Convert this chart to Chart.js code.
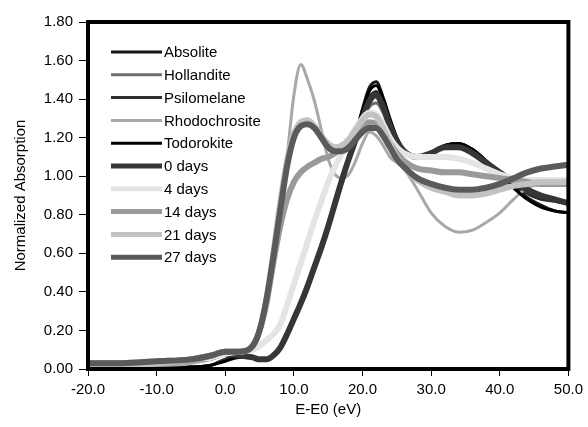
<!DOCTYPE html>
<html><head><meta charset="utf-8">
<script src="https://cdn.jsdelivr.net/npm/chart.js@4/dist/chart.umd.min.js"></script>
<style>html,body{margin:0;padding:0;background:#fff}#wrap{width:588px;height:427px}</style>
</head><body><div id="wrap"><canvas id="c" width="588" height="427"></canvas></div>
<script>
const energies = [-20,-15,-10,-5,-2,0,2,4,5,6,7,8,9,10,11,12,13,14,15,16,17,18,19,20,21,22,23,24,25,26,28,30,32,34,36,38,40,42,44,46,48,50];
const absolite = [0.00,0.00,0.00,0.01,0.02,0.05,0.07,0.06,0.05,0.05,0.07,0.11,0.18,0.26,0.34,0.43,0.53,0.63,0.74,0.86,0.98,1.10,1.22,1.35,1.46,1.49,1.41,1.30,1.20,1.14,1.10,1.12,1.16,1.17,1.14,1.08,1.01,0.95,0.89,0.85,0.82,0.81];
const hollandite = [0.00,0.00,0.01,0.01,0.02,0.05,0.07,0.06,0.05,0.05,0.07,0.11,0.18,0.26,0.35,0.44,0.54,0.64,0.75,0.87,0.98,1.09,1.19,1.29,1.36,1.38,1.33,1.24,1.17,1.12,1.10,1.12,1.15,1.16,1.13,1.08,1.02,0.97,0.92,0.89,0.87,0.86];
const psilomelane = [0.00,0.00,0.00,0.01,0.02,0.05,0.07,0.06,0.05,0.05,0.07,0.11,0.18,0.26,0.34,0.43,0.53,0.63,0.74,0.86,0.97,1.09,1.20,1.32,1.41,1.44,1.38,1.28,1.19,1.13,1.10,1.12,1.16,1.17,1.14,1.08,1.02,0.96,0.91,0.88,0.87,0.86];
const rhodochrosite = [0.01,0.01,0.02,0.03,0.05,0.08,0.08,0.12,0.18,0.32,0.52,0.80,1.10,1.42,1.58,1.50,1.39,1.24,1.09,1.01,0.99,1.01,1.08,1.17,1.23,1.21,1.16,1.10,1.07,1.04,0.93,0.81,0.74,0.71,0.72,0.76,0.81,0.88,0.94,0.96,0.97,0.97];
const todorokite = [0.00,0.00,0.00,0.01,0.02,0.04,0.06,0.06,0.05,0.05,0.07,0.11,0.18,0.26,0.34,0.43,0.53,0.63,0.74,0.86,0.98,1.10,1.21,1.34,1.44,1.47,1.40,1.29,1.20,1.14,1.10,1.12,1.16,1.17,1.14,1.08,1.01,0.94,0.88,0.84,0.82,0.81];
const day0 = [0.02,0.02,0.03,0.05,0.06,0.08,0.07,0.06,0.05,0.05,0.07,0.11,0.18,0.26,0.34,0.43,0.53,0.63,0.74,0.86,0.98,1.09,1.19,1.30,1.39,1.42,1.36,1.26,1.18,1.13,1.10,1.12,1.15,1.15,1.12,1.07,1.02,0.97,0.93,0.90,0.88,0.86];
const day4 = [0.02,0.02,0.03,0.05,0.06,0.08,0.09,0.10,0.12,0.15,0.18,0.23,0.33,0.44,0.55,0.66,0.77,0.87,0.97,1.05,1.12,1.19,1.25,1.30,1.33,1.32,1.27,1.20,1.15,1.12,1.10,1.10,1.10,1.09,1.07,1.04,1.01,0.99,0.98,0.98,0.98,0.98];
const day14 = [0.03,0.03,0.04,0.05,0.07,0.09,0.09,0.12,0.20,0.34,0.55,0.74,0.88,0.97,1.02,1.05,1.07,1.09,1.10,1.12,1.15,1.18,1.22,1.26,1.28,1.27,1.23,1.17,1.12,1.08,1.04,1.03,1.02,1.02,1.01,1.00,0.99,0.98,0.97,0.96,0.96,0.96];
const day21 = [0.02,0.02,0.03,0.05,0.07,0.09,0.09,0.12,0.20,0.36,0.60,0.86,1.08,1.22,1.28,1.29,1.26,1.21,1.17,1.15,1.16,1.19,1.24,1.29,1.32,1.31,1.25,1.17,1.10,1.05,0.98,0.94,0.92,0.90,0.90,0.91,0.93,0.95,0.96,0.97,0.97,0.97];
const day27 = [0.03,0.03,0.04,0.05,0.07,0.09,0.09,0.12,0.20,0.36,0.58,0.82,1.05,1.20,1.26,1.27,1.25,1.20,1.15,1.13,1.13,1.15,1.19,1.23,1.25,1.25,1.21,1.15,1.09,1.05,0.99,0.96,0.94,0.93,0.93,0.94,0.96,0.99,1.02,1.04,1.05,1.06];
const seriesNames = ['Absolite','Hollandite','Psilomelane','Rhodochrosite','Todorokite','0 days','4 days','14 days','21 days','27 days'];
const seriesValues = [absolite,hollandite,psilomelane,rhodochrosite,todorokite,day0,day4,day14,day21,day27];
const seriesColors = ['#151515','#6f6f6f','#2e2e2e','#a8a8a8','#000000','#363636','#e4e4e4','#9a9a9a','#c2c2c2','#5a5a5a'];
const seriesWidths = [3,3,3,3,3,6,6,6,6,6];
const yTicks = [0,0.2,0.4,0.6,0.8,1.0,1.2,1.4,1.6,1.8];
const xTicks = [-20,-10,0,10,20,30,40,50];

const FONT = "'Liberation Sans', Arial, sans-serif";

const datasets = seriesNames.map((name, i) => ({
  label: name,
  data: energies.map((e, k) => ({x: e, y: seriesValues[i][k]})),
  borderColor: seriesColors[i],
  backgroundColor: seriesColors[i],
  borderWidth: seriesWidths[i],
  pointRadius: 0,
  cubicInterpolationMode: 'monotone',
  fill: false,
  order: seriesNames.length - i,
  legendWidth: seriesWidths[i] === 3 ? 3 : 5
}));

const framePlugin = {
  id: 'frame',
  afterDatasetsDraw(chart) {
    const {ctx, chartArea: a} = chart;
    ctx.save();
    ctx.strokeStyle = '#000';
    ctx.lineWidth = 4;
    ctx.strokeRect(a.left, a.top, a.right - a.left, a.bottom - a.top);
    ctx.restore();
  }
};

const legendPlugin = {
  id: 'sideLegend',
  afterDraw(chart) {
    const {ctx} = chart;
    ctx.save();
    ctx.font = '15px ' + FONT;
    ctx.textBaseline = 'middle';
    ctx.textAlign = 'left';
    chart.data.datasets.forEach((ds, i) => {
      const y = 52 + i * 22.8;
      ctx.strokeStyle = ds.borderColor;
      ctx.lineWidth = ds.legendWidth;
      ctx.beginPath();
      ctx.moveTo(111, y);
      ctx.lineTo(162, y);
      ctx.stroke();
      ctx.fillStyle = '#000';
      ctx.fillText(ds.label, 164, y + 1);
    });
    ctx.restore();
  }
};

new Chart(document.getElementById('c'), {
  type: 'line',
  data: {datasets},
  options: {
    responsive: false,
    animation: false,
    devicePixelRatio: 1,
    layout: {padding: {top: 22, right: 17, left: 0, bottom: 0}},
    plugins: {legend: {display: false}, tooltip: {enabled: false}},
    scales: {
      x: {
        type: 'linear', min: -20, max: 50,
        afterBuildTicks(s) { s.ticks = xTicks.map(v => ({value: v})); },
        afterFit(s) { s.height = 58; },
        grid: {drawOnChartArea: false, drawTicks: true, tickLength: 7, color: '#000', lineWidth: 1},
        border: {display: false},
        ticks: {color: '#000', font: {family: FONT, size: 15}, padding: 5, maxRotation: 0,
          callback: v => Number(v).toFixed(1)},
        title: {display: true, text: 'E-E0 (eV)', color: '#000', font: {family: FONT, size: 15}, padding: {top: 0, bottom: 8}}
      },
      y: {
        min: 0, max: 1.8,
        afterBuildTicks(s) { s.ticks = yTicks.map(v => ({value: v})); },
        afterFit(s) { s.width = 88; },
        grid: {drawOnChartArea: false, drawTicks: true, tickLength: 9, color: '#000', lineWidth: 1},
        border: {display: false},
        ticks: {color: '#000', font: {family: FONT, size: 15}, padding: 6,
          callback: v => Number(v).toFixed(2)},
        title: {display: true, text: 'Normalized Absorption', color: '#000', font: {family: FONT, size: 15}, padding: {top: 12, bottom: 0}}
      }
    }
  },
  plugins: [framePlugin, legendPlugin]
});
</script>
</body></html>
